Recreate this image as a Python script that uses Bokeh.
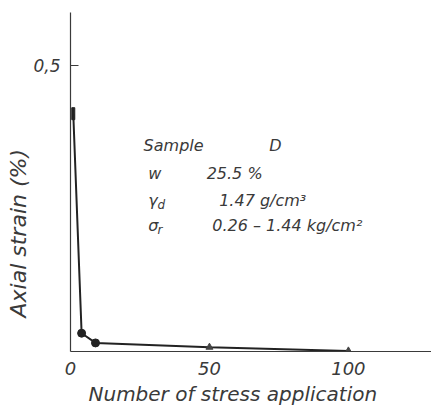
from bokeh.plotting import figure
from bokeh.models import Range1d, FixedTicker, Label, Title
from bokeh.embed import file_html
from bokeh.resources import INLINE

# data
cycles = [1, 4, 9, 50, 100]
strain = [0.416, 0.032, 0.015, 0.0075, 0.001]
x_ticks = [0, 50, 100]
y_ticks = [0.5]
y_tick_labels = {0.5: "0,5"}

FONT = "DejaVu Sans"
INK = "#3a3a3a"

p = figure(width=431, height=413, output_backend="svg", toolbar_location=None,
           x_range=Range1d(0, 129.9), y_range=Range1d(0, 0.593),
           min_border_left=70, min_border_bottom=62, min_border_top=12, min_border_right=0)
p.outline_line_color = None
p.xgrid.visible = False
p.ygrid.visible = False
p.background_fill_color = "white"

for ax in (p.xaxis[0], p.yaxis[0]):
    ax.axis_line_color = INK
    ax.axis_line_width = 1.2
    ax.major_tick_line_color = INK
    ax.minor_tick_line_color = None
    ax.major_label_text_font = FONT
    ax.major_label_text_font_style = "italic"
    ax.major_label_text_color = INK
    ax.major_label_text_font_size = "18px"

p.xaxis.ticker = FixedTicker(ticks=x_ticks)
p.xaxis.major_tick_in = 0
p.xaxis.major_tick_out = 0
p.xaxis.major_label_standoff = 10

p.yaxis.ticker = FixedTicker(ticks=y_ticks)
p.yaxis.major_label_overrides = y_tick_labels
p.yaxis.major_label_text_font_size = "17px"
p.yaxis.major_tick_in = 8
p.yaxis.major_tick_out = 0
p.yaxis.major_label_standoff = 10

p.line(cycles, strain, line_color="#222222", line_width=2)
p.rect(cycles[:1], strain[:1], width=3, height=12, width_units="screen", height_units="screen",
       fill_color="#222222", line_color="#222222")
p.scatter(cycles[1:3], strain[1:3], marker="circle", size=8, fill_color="#222222", line_color="#222222")
p.scatter(cycles[3:], strain[3:], marker="triangle", size=7, fill_color="#444444", line_color="#444444")

# axis titles (side-panel titles so they can be shifted along the axis)
p.add_layout(Title(text="Axial  strain (%)", align="left", offset=34, text_font=FONT,
                   text_font_style="italic", text_font_size="22px", text_color=INK,
                   standoff=0), "left")
p.add_layout(Title(text="Number  of stress application", align="left", offset=18, text_font=FONT,
                   text_font_style="italic", text_font_size="20px", text_color=INK,
                   standoff=5), "below")

# sample info
info_names = ["Sample", "w", "γ", "σ"]
info_subs = ["", "", "d", "r"]
info_values = ["D", "25.5 %", "1.47   g/cm³", "0.26 – 1.44  kg/cm²"]
info_y = [0.360, 0.311, 0.264, 0.220]
info_vx = [71.5, 49, 53.5, 51]
for name, sub, val, yy, vx in zip(info_names, info_subs, info_values, info_y, info_vx):
    nx = 26.3 if name == "Sample" else 28
    p.add_layout(Label(x=nx, y=yy, text=name, text_baseline="middle", text_font=FONT,
                       text_font_style="italic", text_font_size="16px", text_color=INK))
    if sub:
        p.add_layout(Label(x=nx + 3.3, y=yy - 0.008, text=sub, text_baseline="middle", text_font=FONT,
                           text_font_style="italic", text_font_size="12px", text_color=INK))
    p.add_layout(Label(x=vx, y=yy, text=val, text_baseline="middle", text_font=FONT,
                       text_font_style="italic", text_font_size="16px", text_color=INK))

open("out.html", "w").write(file_html(p, INLINE))
